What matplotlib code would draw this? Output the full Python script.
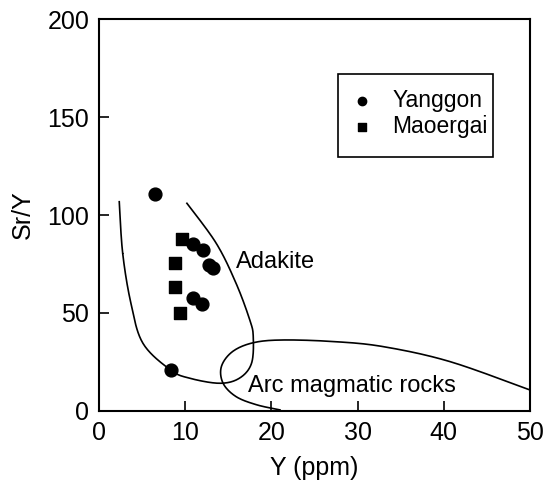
import numpy as np
import matplotlib.pyplot as plt
from matplotlib.patches import Rectangle

plt.rcParams['font.family'] = ['Liberation Sans', 'DejaVu Sans']

# sample data
yanggon_y = [6.5, 10.9, 12.1, 12.8, 13.2, 10.9, 11.9, 8.3]
yanggon_sry = [110.7, 85.2, 82.1, 74.5, 72.8, 57.8, 54.4, 20.9]
maoergai_y = [9.6, 8.8, 8.8, 9.4]
maoergai_sry = [87.8, 75.3, 63.1, 49.8]

# field boundaries
adakite_x = [2.35, 2.75, 3.7, 5.1, 8.3, 10.5, 14.0, 16.3, 17.7, 17.9, 17.5, 15.9, 13.6, 10.2]
adakite_y = [106.8, 80.4, 55.0, 34.5, 20.9, 16.7, 14.1, 16.7, 24.3, 37.9, 46.4, 65.2, 85.6, 106.0]
arc_x = [50.0, 40.7, 33.0, 27.2, 21.3, 17.9, 15.5, 14.2, 14.4, 15.9, 18.3, 21.0]
arc_y = [10.7, 25.2, 32.8, 35.4, 36.2, 34.8, 30.3, 22.6, 14.1, 7.3, 3.1, 0.5]


def smooth(xs, ys, n=300):
    # catmull-rom style smoothing through the traced points
    pts = np.column_stack([xs, ys])
    pts = np.vstack([pts[0], pts, pts[-1]])
    out = []
    for i in range(1, len(pts) - 2):
        p0, p1, p2, p3 = pts[i - 1], pts[i], pts[i + 1], pts[i + 2]
        t = np.linspace(0, 1, n // len(xs))[:, None]
        seg = 0.5 * ((2 * p1) + (-p0 + p2) * t + (2 * p0 - 5 * p1 + 4 * p2 - p3) * t ** 2
                     + (-p0 + 3 * p1 - 3 * p2 + p3) * t ** 3)
        out.append(seg)
    out = np.vstack(out)
    return out[:, 0], out[:, 1]


fig = plt.figure(figsize=(5.44, 4.8), dpi=100)
ax = fig.add_axes([0.182, 0.144, 0.792, 0.816])

cx, cy = smooth(adakite_x, adakite_y)
ax.plot(cx, cy, color='black', lw=1.2)
cx, cy = smooth(arc_x, arc_y)
ax.plot(cx, cy, color='black', lw=1.2)

ax.scatter(yanggon_y, yanggon_sry, s=85, marker='o', color='black', label='Yanggon', zorder=3)
ax.scatter(maoergai_y, maoergai_sry, s=85, marker='s', color='black', label='Maoergai', zorder=3)

ax.text(15.9, 76, 'Adakite', fontsize=17, va='center', ha='left')
ax.text(17.3, 12.9, 'Arc magmatic rocks', fontsize=17, va='center', ha='left')

ax.set_xlim(0, 50)
ax.set_ylim(0, 200)
ax.set_xticks([0, 10, 20, 30, 40, 50])
ax.set_yticks([0, 50, 100, 150, 200])
ax.tick_params(direction='in', length=7, width=1.2, labelsize=18, top=False, right=False, pad=7)
for sp in ax.spines.values():
    sp.set_linewidth(1.5)

ax.set_xlabel('Y (ppm)', fontsize=18, labelpad=8)
ax.set_ylabel('Sr/Y', fontsize=18, labelpad=9)

# legend box drawn separately so it matches the original frame
ax.add_patch(Rectangle((0.554, 0.649), 0.360, 0.210, transform=ax.transAxes,
                       fill=False, edgecolor='black', lw=1.2, zorder=4))
leg = ax.legend(loc='upper left', bbox_to_anchor=(0.583, 0.823), frameon=False,
                fontsize=16.5, markerscale=0.65, handletextpad=0.8, borderpad=0,
                labelspacing=0.17, handlelength=1.03, borderaxespad=0)

fig.savefig('out.png', dpi=100)
